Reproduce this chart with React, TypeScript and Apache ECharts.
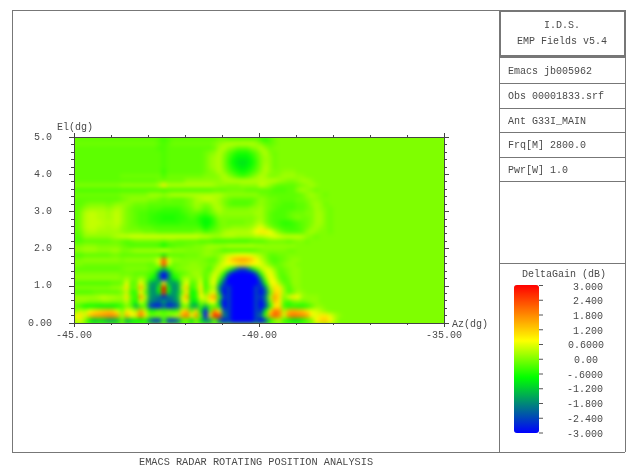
import React, { useEffect, useRef } from "react";
import * as echarts from "echarts";

// DeltaGain in tenths of a dB. Rows run from El 5.0 down to El 0.0; columns from Az -45 to -37.5, 0.125 deg each.
const r00 = [-2,-2,-2,-2,-2,-2,-2,-2,-2,-2,-2,-2,-2,-2,-2,-2,-2,-2,-3,-4,-3,-2,-2,-2,-2,-2,-2,-2,-2,-2,-2,-1,-1,-2,-2,-2,-2,-2,-2,-2,-4,-5,-3,-1,0,0,0,0,0,0,0,0,0,0,0,0,0,0,0,0];
const r01 = [-1,-1,-1,-1,-1,-1,-1,-1,-1,-1,-1,-1,-1,-1,-1,-1,-1,-1,-2,-3,-2,-1,-1,-1,-1,-1,-1,-1,-1,-1,0,1,2,3,3,3,3,3,3,2,0,-2,-2,-1,0,0,0,0,0,0,0,0,0,0,0,0,0,0,0,0];
const r02 = [-2,-2,-2,-2,-2,-2,-2,-2,-2,-2,-2,-2,-2,-2,-2,-2,-2,-2,-3,-3,-2,-2,-2,-2,-2,-2,-2,-2,-2,-2,-1,2,3,1,0,-2,-2,-2,0,1,3,1,-1,0,0,0,0,0,0,0,0,0,0,0,0,0,0,0,0,0];
const r03 = [-2,-2,-2,-2,-2,-2,-2,-2,-2,-2,-2,-2,-2,-2,-2,-2,-2,-2,-2,-3,-2,-2,-2,-2,-2,-2,-2,-2,-1,0,1,3,1,-2,-4,-6,-6,-6,-4,-2,1,3,0,-1,0,0,0,0,0,0,0,0,0,0,0,0,0,0,0,0,0];
const r04 = [-2,-2,-2,-2,-2,-2,-2,-2,-2,-2,-2,-2,-2,-2,-2,-2,-2,-2,-2,-3,-2,-2,-2,-2,-2,-2,-2,-2,-1,1,2,3,0,-3,-6,-8,-8,-8,-6,-3,0,2,1,-1,0,0,0,0,0,0,0,0,0,0,0,0,0,0,0,0];
const r05 = [-2,-2,-2,-2,-2,-2,-2,-2,-2,-2,-2,-2,-2,-2,-2,-2,-2,-2,-2,-3,-2,-2,-2,-2,-2,-2,-2,-2,-1,1,2,3,0,-4,-7,-9,-10,-9,-7,-4,0,2,1,-1,0,0,0,0,0,0,0,0,0,0,0,0,0,0,0,0];
const r06 = [-2,-2,-2,-2,-2,-2,-2,-2,-2,-2,-2,-2,-2,-2,-2,-2,-2,-2,-2,-3,-2,-2,-2,-2,-2,-2,-2,-2,-1,1,2,3,0,-3,-6,-8,-9,-8,-6,-3,0,3,1,-1,0,0,0,0,0,0,0,0,0,0,0,0,0,0,0,0];
const r07 = [-2,-2,-2,-2,-2,-2,-2,-2,-2,-2,-2,-2,-2,-2,-2,-2,-2,-2,-2,-4,-2,-2,-2,-2,-2,-2,-2,-2,-1,0,1,3,1,-2,-4,-6,-7,-6,-4,-2,1,3,1,0,0,1,1,1,0,0,0,0,0,0,0,0,0,0,0,0];
const r08 = [-2,-2,-2,-2,-2,-2,-2,-2,-2,-2,-1,-1,-1,-1,-1,-1,-1,-1,-1,-3,-1,-1,-1,-1,-1,-1,-1,-1,0,0,0,1,3,1,-1,-3,-4,-3,-1,1,3,2,0,0,1,2,2,2,1,1,0,0,0,0,0,0,0,0,0,0];
const r09 = [-2,-2,-2,-2,-2,-2,-2,-2,-2,-2,-2,-2,-2,-2,-2,-2,-2,-2,-1,-1,-1,-1,-1,-1,1,1,1,1,1,1,1,1,2,3,3,3,3,3,3,3,3,3,3,3,2,1,0,0,1,2,2,1,0,0,0,0,0,0,0,0];
const r10 = [0,0,0,0,0,0,0,0,0,0,1,1,1,1,1,1,1,1,3,9,3,3,3,3,3,3,3,3,3,3,2,1,1,0,0,0,1,1,1,1,4,3,1,-1,-2,-2,-2,-2,-1,0,1,2,1,0,0,0,0,0,0,0];
const r11 = [-3,-3,-3,-3,-3,-3,-3,-3,-3,-3,-3,-3,-3,-3,-3,-3,-3,-3,-3,-4,-3,-3,-3,-3,-3,-3,-3,-3,-3,-3,-2,-2,-2,-1,-1,-1,-1,-2,-2,-2,-2,-2,-2,-3,-3,-3,-2,-2,1,2,1,0,-1,0,0,0,0,0,0,0];
const r12 = [-1,-1,-1,-1,-1,-1,-1,-1,-1,-1,0,0,0,0,0,0,2,2,2,1,2,3,3,3,3,3,3,3,3,3,3,3,2,1,1,1,1,1,1,1,-1,-1,-2,-2,-2,-2,-2,-2,-2,-1,1,2,1,0,-1,0,0,0,0,0];
const r13 = [-2,-2,-2,-2,-2,-2,-2,-2,-2,-2,-1,0,1,1,1,1,0,0,-1,-2,-1,-2,-2,-2,-1,0,2,3,4,4,3,2,0,-1,-2,-2,-2,-2,-2,-1,1,0,-1,-1,-2,-2,-2,-2,-1,-1,0,1,1,0,0,0,0,0,0,0];
const r14 = [-2,-2,-1,0,0,0,0,-1,0,1,1,1,0,-1,-1,-1,-2,-2,-2,-2,-2,-2,-2,-2,-1,0,2,1,0,1,3,2,0,-2,-3,-3,-3,-3,-2,0,1,0,-1,-2,-2,-3,-3,-3,-2,-2,-1,1,2,1,-1,0,0,0,0,0];
const r15 = [-2,-1,1,2,2,2,2,1,2,3,2,0,-1,-2,-2,-2,-3,-3,-3,-4,-4,-4,-4,-3,-2,-1,1,0,-2,-1,2,3,1,0,0,0,0,0,1,1,2,0,-1,-2,-3,-3,-3,-3,-2,-2,-1,0,2,1,0,-1,0,0,0,0];
const r16 = [-2,0,3,4,4,3,3,2,3,4,2,0,-1,-2,-3,-3,-4,-4,-5,-5,-5,-5,-5,-4,-3,-2,-2,-3,-4,-2,0,2,1,1,1,1,1,1,1,2,2,0,-2,-3,-3,-3,-2,-1,-1,-1,0,0,2,2,0,-1,0,0,0,0];
const r17 = [-2,0,3,4,4,3,3,2,3,4,2,0,-1,-2,-3,-3,-4,-5,-5,-6,-6,-6,-5,-5,-4,-3,-4,-6,-7,-6,-3,0,0,0,0,0,0,0,0,1,2,0,-2,-3,-3,-3,-2,-1,0,-1,-1,0,2,2,0,-1,0,0,0,0];
const r18 = [-2,0,3,4,4,4,3,3,3,4,2,0,-1,-2,-3,-3,-4,-4,-5,-5,-5,-5,-5,-4,-4,-4,-4,-6,-8,-7,-4,-1,0,-1,-1,-1,-1,0,0,2,3,0,-2,-3,-4,-5,-5,-4,-3,-2,-1,0,2,2,0,-1,0,0,0,0];
const r19 = [-2,0,3,4,4,3,3,2,3,3,1,0,-1,-1,-2,-2,-2,-3,-3,-3,-3,-3,-3,-3,-3,-3,-3,-4,-7,-5,-3,-1,0,0,1,1,1,1,2,4,6,3,0,-2,-3,-4,-4,-4,-3,-2,-1,1,2,1,0,-1,0,0,0,0];
const r20 = [-2,-1,2,3,3,2,2,2,2,2,1,0,0,0,0,-1,-1,-1,-2,-2,-2,-2,-2,-2,-2,-2,-1,-1,-3,-2,-1,0,2,3,3,3,3,3,4,7,9,9,7,3,0,-2,-3,-3,-3,-2,1,2,1,0,0,-1,0,0,0,0];
const r21 = [-3,-2,1,1,1,1,1,1,2,3,4,4,5,5,5,5,5,5,5,5,5,5,5,5,5,5,5,4,4,3,2,2,3,3,3,2,2,2,2,3,3,4,5,6,5,4,4,4,4,3,1,0,-1,0,0,0,0,0,0,0];
const r22 = [-3,-3,-2,-2,-2,-2,-2,-2,-1,-1,-2,-3,-2,-1,-1,-1,-1,-1,-1,-2,-1,-1,-2,-2,-2,-2,-2,-3,-3,-3,-4,-4,-4,-4,-4,-4,-4,-4,-3,-3,-3,-2,-1,-1,-1,-1,-2,-1,0,0,-1,0,0,0,0,0,0,0,0,0];
const r23 = [0,0,1,1,1,0,0,0,0,0,-1,-2,-3,-3,-3,-3,-3,-3,-4,-7,-4,-3,-2,-2,-1,-1,0,0,1,2,2,2,2,3,3,3,3,3,3,2,2,1,1,1,1,1,1,1,0,0,0,0,0,0,0,0,0,0,0,0];
const r24 = [1,1,2,2,2,1,1,1,2,2,0,0,1,2,2,2,2,2,3,5,3,1,1,1,0,0,0,0,1,1,0,-1,-3,-3,-3,-3,-3,-3,-3,-2,-1,0,0,0,0,0,-1,-1,0,0,0,0,0,0,0,0,0,0,0,0];
const r25 = [-3,-3,-2,-2,-2,-2,-2,-2,-1,-1,-2,-2,-2,-2,-2,-2,-2,-2,-3,-9,-3,-2,-2,-2,-1,-1,-1,0,1,1,0,1,3,5,6,7,7,7,6,4,2,0,-2,-2,-1,-1,0,0,0,0,0,0,0,0,0,0,0,0,0,0];
const r26 = [0,0,1,1,1,1,1,1,1,1,0,1,1,1,1,1,1,2,6,22,6,1,1,0,0,0,0,0,-1,-2,-2,1,4,9,13,15,16,15,12,8,4,1,-2,-3,-2,-1,0,1,1,0,0,0,0,0,0,0,0,0,0,0];
const r27 = [0,0,-1,-1,-1,-1,-1,-1,-1,-1,-1,-1,-1,-1,-1,-1,-2,-1,4,24,4,-1,-1,0,0,1,1,0,0,-1,0,3,6,7,8,9,10,9,8,7,6,3,0,-2,-1,0,1,1,0,0,0,0,0,0,0,0,0,0,0,0];
const r28 = [-2,-2,-2,-2,-2,-2,-2,-2,-2,-2,-1,0,0,0,0,0,-1,-2,-6,-14,-6,-2,0,0,1,1,1,1,-1,-3,2,5,3,-3,-12,-22,-25,-22,-12,-3,3,6,5,1,-2,-1,0,1,1,0,0,0,0,0,0,0,0,0,0,0];
const r29 = [0,0,0,0,0,0,0,0,0,0,-1,-1,-1,-2,-2,-2,-3,-5,-20,-30,-20,-5,-3,-2,-1,1,2,1,-2,0,5,3,-6,-22,-30,-30,-30,-30,-30,-22,-5,4,7,3,-2,-2,0,1,1,0,0,0,0,0,0,0,0,0,0,0];
const r30 = [1,1,1,1,1,1,1,1,1,1,0,2,0,-1,2,0,-5,-9,-18,-30,-18,-9,-5,1,3,0,1,3,-3,2,6,-2,-16,-30,-30,-30,-30,-30,-30,-30,-16,0,8,5,-1,-3,-1,1,1,0,0,0,0,0,0,0,0,0,0,0];
const r31 = [-3,-3,-3,-3,-3,-3,-3,-3,-2,-2,-1,6,-2,-2,8,0,-14,-17,-14,8,-14,-17,-14,0,7,-3,-1,6,-5,3,6,-10,-24,-30,-30,-30,-30,-30,-30,-30,-24,-6,6,8,2,-2,-2,1,1,0,0,0,0,0,0,0,0,0,0,0];
const r32 = [0,0,0,0,0,0,0,0,1,1,2,10,-2,-1,14,2,-16,-18,-6,30,-6,-18,-16,3,12,-5,-1,9,-4,1,3,-18,-28,-24,-30,-30,-30,-30,-30,-24,-28,-18,2,10,9,1,-3,0,1,0,0,0,0,0,0,0,0,0,0,0];
const r33 = [-3,-3,-3,-3,-2,-2,-2,-2,-2,-2,0,4,-4,-5,8,-2,-15,-18,-8,28,-8,-18,-14,-1,9,-8,-5,9,-3,4,6,-14,-30,-24,-30,-30,-30,-30,-30,-24,-30,-22,-2,11,10,2,-3,-1,2,1,0,0,0,0,0,0,0,0,0,0];
const r34 = [2,2,2,2,2,3,4,3,3,2,2,10,-2,-5,16,4,-16,-18,-20,-26,-20,-18,-14,5,15,-7,-5,7,4,12,16,-4,-26,-24,-30,-30,-30,-30,-30,-24,-26,-18,3,16,10,0,5,9,7,2,1,1,1,0,0,0,0,0,0,0];
const r35 = [1,1,1,0,0,0,1,1,0,0,0,4,-3,-7,6,-1,-18,-20,-22,-15,-22,-20,-16,3,8,-10,-9,1,1,7,8,-14,-30,-24,-30,-30,-30,-30,-30,-24,-30,-20,-1,13,9,-2,-4,-1,0,-1,0,1,1,0,0,0,0,0,0,0];
const r36 = [-2,-4,-7,-7,-7,-8,-8,-8,-8,-7,-4,0,-3,-14,-4,-3,-24,-28,-28,-22,-28,-26,-22,-3,-1,-14,-16,-4,-14,-4,-2,-10,-30,-24,-30,-30,-30,-30,-30,-24,-30,-24,-6,8,10,-4,-6,-5,-6,-6,-5,-2,1,1,0,0,0,0,0,0];
const r37 = [1,4,3,8,10,11,12,13,12,6,0,9,6,2,16,4,-6,-5,-2,-4,-2,-4,-3,10,14,-2,10,-10,-28,-2,18,8,-22,-24,-30,-30,-30,-30,-30,-24,-26,-8,10,20,17,3,14,15,14,13,10,6,5,3,1,0,0,0,0,0];
const r38 = [8,10,5,13,15,16,17,18,18,15,2,14,8,10,20,10,-1,-1,0,-2,0,2,4,16,20,8,17,-2,-30,10,28,24,-18,-24,-30,-30,-30,-30,-30,-24,-20,-3,16,22,18,5,18,20,19,18,16,8,6,9,9,6,3,1,0,0];
const r39 = [4,5,0,-8,-12,-10,-11,-14,-14,-12,-2,-14,-10,-8,-8,-6,-18,-24,-24,-4,-24,-24,-20,-4,-2,-10,0,-10,-18,-16,-2,-20,-28,-24,-30,-30,-30,-30,-30,-24,-30,-22,-6,0,2,-4,-6,-9,-9,-6,-3,0,8,11,12,8,3,0,0,0];
const gainRows = [r00,r01,r02,r03,r04,r05,r06,r07,r08,r09,r10,r11,r12,r13,r14,r15,r16,r17,r18,r19,r20,r21,r22,r23,r24,r25,r26,r27,r28,r29,r30,r31,r32,r33,r34,r35,r36,r37,r38,r39];
const farFieldGain = 0;

const xTickLabels: Record<number, string> = { [-45]: "-45.00", [-40]: "-40.00", [-35]: "-35.00" };
const yTickLabels: Record<number, string> = { 5: "5.0", 4: "4.0", 3: "3.0", 2: "2.0", 1: "1.0", 0: "0.00" };
const colourStops = ["#0000ff","#0055aa","#00aa55","#00ff00","#7fff00","#ffff00","#ffaa00","#ff5500","#ff0000"];
const legendLabels = ["3.000","2.400","1.800","1.200","0.6000","0.00","-.6000","-1.200","-1.800","-2.400","-3.000"];
const legendLabelX = [573,573,573,573,568,574,567,567,567,567,567];
const infoLines = ["Emacs jb005962","Obs 00001833.srf","Ant G33I_MAIN","Frq[M] 2800.0","Pwr[W] 1.0"];
const infoLineY = [71,96,121,145,170];
const separatorY = [83,108,132,157,181];

const MONO = "'Liberation Mono', monospace";
const INK = "#4a4a4a";
const FRAME = "#777777";

const STEP = 0.125;
const cells: number[][] = [];
gainRows.forEach((row, r) =>
  row.forEach((v, c) => {
    cells.push([-45 + c * STEP, -45 + (c + 1) * STEP, 5 - (r + 1) * STEP, 5 - r * STEP, v / 10]);
  })
);
cells.push([-37.5, -35, 0, 5, farFieldGain]);

const grid = { left: 74, right: 186, top: 137, bottom: 145 };

function heatOption(): any {
  return {
    animation: false,
    grid,
    xAxis: { type: "value", min: -45, max: -35, show: false },
    yAxis: { type: "value", min: 0, max: 5, show: false },
    visualMap: { show: false, type: "continuous", min: -3, max: 3, dimension: 4, seriesIndex: 0, inRange: { color: colourStops } },
    series: [
      {
        type: "custom",
        encode: { x: [0, 1], y: [2, 3] },
        data: cells,
        clip: false,
        renderItem: (_p: any, api: any) => {
          const a = api.coord([api.value(0), api.value(3)]);
          const b = api.coord([api.value(1), api.value(2)]);
          return {
            type: "rect",
            shape: { x: a[0] - 0.4, y: a[1] - 0.4, width: b[0] - a[0] + 0.8, height: b[1] - a[1] + 0.8 },
            style: { fill: api.visual("color") },
          };
        },
      },
    ],
  };
}

function txt(text: string, x: number, y: number, align = "left", size = 10): any {
  return { type: "text", x, y, silent: true, style: { text, fill: INK, font: `${size}px ${MONO}`, align, verticalAlign: "middle" } };
}
function ln(x1: number, y1: number, x2: number, y2: number, lineWidth = 1, stroke = FRAME): any {
  return { type: "line", silent: true, shape: { x1, y1, x2, y2 }, style: { stroke, lineWidth } };
}

function overlayOption(): any {
  const axisLine = { show: true, onZero: false, lineStyle: { color: "#444", width: 1 } };
  const xBase = { type: "value", min: -45, max: -35, interval: 5, splitLine: { show: false }, axisLine,
    minorTick: { show: true, splitNumber: 5, length: 2, lineStyle: { color: "#444" } }, axisTick: { length: 4, lineStyle: { color: "#444" } } };
  const yBase = { type: "value", min: 0, max: 5, interval: 1, splitLine: { show: false }, axisLine,
    minorTick: { show: true, splitNumber: 5, length: 3, lineStyle: { color: "#444" } }, axisTick: { length: 5, lineStyle: { color: "#444" } } };
  const graphics: any[] = [
    ln(12, 10.5, 625, 10.5), ln(12.5, 10, 12.5, 452), ln(12, 452.5, 625, 452.5), ln(625.5, 10, 625.5, 452), ln(499.5, 10, 499.5, 452),
    { type: "rect", silent: true, shape: { x: 500, y: 11, width: 125, height: 45 }, style: { fill: "none", stroke: FRAME, lineWidth: 2 } },
    ln(499, 57.5, 625, 57.5), ln(499, 263.5, 625, 263.5),
    ...separatorY.map((y) => ln(499, y + 0.5, 625, y + 0.5)),
    txt("I.D.S.", 562, 25, "center"),
    txt("EMP Fields v5.4", 562, 41, "center"),
    ...infoLines.map((s, i) => txt(s, 508, infoLineY[i])),
    txt("DeltaGain (dB)", 522, 274),
    ...legendLabels.map((s, i) => txt(s, legendLabelX[i], 287 + i * 14.7)),
    ...legendLabels.map((_, i) => ln(539, 285.5 + i * 14.75, 543, 285.5 + i * 14.75, 1, "#555")),
    txt("El(dg)", 57, 127),
    txt("Az(dg)", 452, 324),
    txt("EMACS RADAR ROTATING POSITION ANALYSIS", 139, 461.5, "left", 10.27),
  ];
  return {
    animation: false,
    grid,
    xAxis: [
      { ...xBase, position: "bottom", axisLabel: { color: INK, fontFamily: MONO, fontSize: 10, margin: 7, formatter: (v: number) => xTickLabels[v] ?? "" } },
      { ...xBase, position: "top", axisLabel: { show: false } },
    ],
    yAxis: [
      { ...yBase, position: "left", axisLabel: { color: INK, fontFamily: MONO, fontSize: 10, margin: 22, formatter: (v: number) => yTickLabels[v] ?? "" } },
      { ...yBase, position: "right", axisLabel: { show: false } },
    ],
    visualMap: {
      type: "continuous", min: -3, max: 3, seriesIndex: [], calculable: false, left: 514, top: 285, itemWidth: 25, itemHeight: 148,
      text: ["", ""], showLabel: false, inRange: { color: colourStops }, borderWidth: 0, padding: 0, hoverLink: false,
      handleStyle: { opacity: 0 }, indicatorStyle: { opacity: 0 },
    },
    series: [],
    graphic: graphics,
  };
}

export default function App() {
  const heatRef = useRef<HTMLDivElement>(null);
  const overlayRef = useRef<HTMLDivElement>(null);
  useEffect(() => {
    const heat = echarts.init(heatRef.current!, undefined, { renderer: "svg" });
    const overlay = echarts.init(overlayRef.current!, undefined, { renderer: "svg" });
    heat.setOption(heatOption());
    overlay.setOption(overlayOption());
    return () => {
      heat.dispose();
      overlay.dispose();
    };
  }, []);
  const fill: React.CSSProperties = { position: "absolute", left: 0, top: 0, width: 630, height: 468 };
  return (
    <div style={{ ...fill, background: "#fff", overflow: "hidden" }}>
      <div style={{ ...fill, clipPath: "inset(137px 186px 145px 74px)", background: "#7fff00" }}>
        <div ref={heatRef} style={{ ...fill, filter: "blur(2px)" }} />
      </div>
      <div ref={overlayRef} style={{ ...fill, filter: "blur(0.35px)" }} />
    </div>
  );
}
